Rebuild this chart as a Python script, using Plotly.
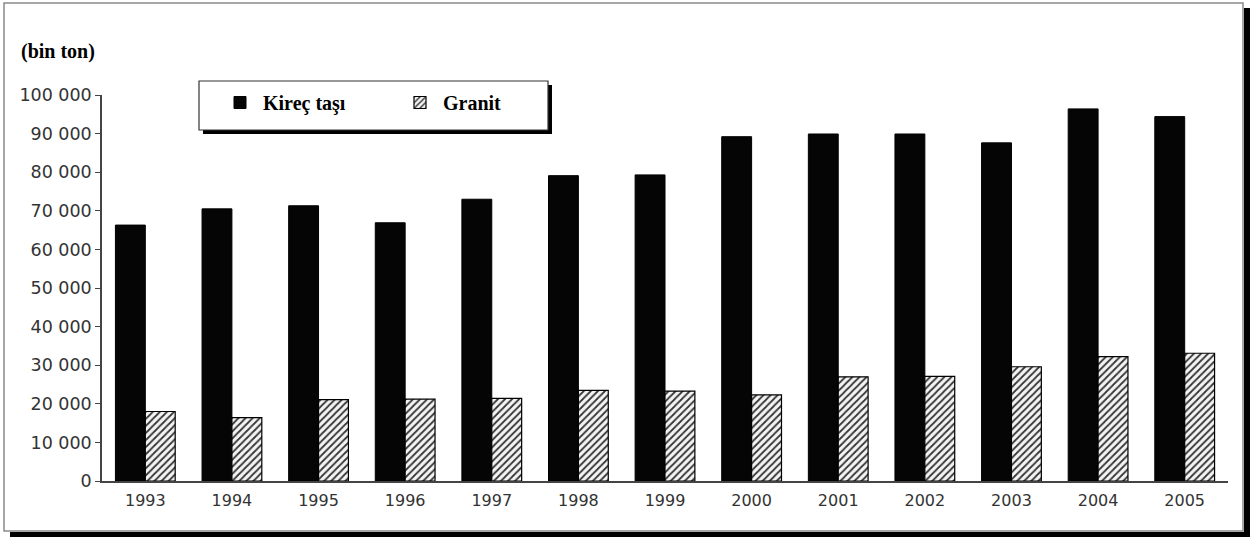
import plotly.graph_objects as go

years = ["1993", "1994", "1995", "1996", "1997", "1998", "1999",
         "2000", "2001", "2002", "2003", "2004", "2005"]
kirec_tasi = [66300, 70500, 71300, 66900, 73000, 79100, 79300,
              89200, 89900, 89900, 87600, 96400, 94400]
granit = [18000, 16400, 21100, 21200, 21400, 23500, 23300,
          22300, 27000, 27100, 29600, 32200, 33100]
y_tick_vals = [0, 10000, 20000, 30000, 40000, 50000, 60000, 70000, 80000, 90000, 100000]
y_tick_text = ["0", "10 000", "20 000", "30 000", "40 000", "50 000", "60 000",
               "70 000", "80 000", "90 000", "100 000"]

W, H = 1251, 538
PL, PR, PT, PB = 102, 1228, 95, 481


def px(p):
    return (p - PL) / (PR - PL)


def py(p):
    return (PB - p) / (PB - PT)


fig = go.Figure()
fig.add_trace(go.Bar(
    name="Kireç taşı", x=years, y=kirec_tasi,
    marker=dict(color="#050505", line=dict(color="#000000", width=1)),
))
fig.add_trace(go.Bar(
    name="Granit", x=years, y=granit,
    marker=dict(color="white", line=dict(color="#000000", width=1.2),
                pattern=dict(shape="/", size=5, solidity=0.35,
                             fgcolor="#333333", bgcolor="#f4f4f4", fillmode="replace")),
))

shapes = []
# outer frame shadow (right and bottom)
shapes.append(dict(type="rect", xref="paper", yref="paper",
                   x0=px(1244), x1=px(1250), y0=py(537), y1=py(8),
                   fillcolor="black", line=dict(width=0), layer="below"))
shapes.append(dict(type="rect", xref="paper", yref="paper",
                   x0=px(10), x1=px(1250), y0=py(537), y1=py(532),
                   fillcolor="black", line=dict(width=0), layer="below"))
# outer frame
shapes.append(dict(type="rect", xref="paper", yref="paper",
                   x0=px(4), x1=px(1243), y0=py(531), y1=py(3),
                   fillcolor="rgba(0,0,0,0)", line=dict(color="#8a8a8a", width=1.5), layer="below"))
# legend box shadow
shapes.append(dict(type="rect", xref="paper", yref="paper",
                   x0=px(203), x1=px(552), y0=py(134), y1=py(85),
                   fillcolor="black", line=dict(width=0), layer="above"))
# legend box
shapes.append(dict(type="rect", xref="paper", yref="paper",
                   x0=px(199), x1=px(548), y0=py(130), y1=py(81),
                   fillcolor="white", line=dict(color="#333333", width=1.2), layer="above"))

fig.update_layout(
    width=W, height=H,
    margin=dict(l=PL, r=W - PR, t=PT, b=H - PB),
    paper_bgcolor="white", plot_bgcolor="white",
    barmode="group", bargap=0.31, bargroupgap=0,
    showlegend=True,
    legend=dict(orientation="h", x=px(217), y=py(83), xanchor="left", yanchor="top",
                bgcolor="rgba(0,0,0,0)", borderwidth=0,
                font=dict(family="Liberation Serif", size=20, color="black", weight="bold"),
                entrywidth=129, entrywidthmode="pixels", itemwidth=36,
                traceorder="normal"),
    shapes=shapes,
    annotations=[dict(text="<b>(bin ton)</b>", xref="paper", yref="paper",
                      x=px(19), y=py(51), xanchor="left", yanchor="middle",
                      showarrow=False,
                      font=dict(family="Liberation Serif", size=20, color="black"))],
    font=dict(family="DejaVu Sans", size=16, color="#333333"),
)
fig.update_xaxes(showline=True, linecolor="#444444", linewidth=1.5,
                 ticks="outside", ticklen=4, tickcolor="white",
                 tickfont=dict(family="DejaVu Sans", size=16, color="#333333"),
                 showgrid=False, zeroline=False)
fig.update_yaxes(range=[0, 100000], tickvals=y_tick_vals, ticktext=y_tick_text,
                 showline=True, linecolor="#444444", linewidth=1.5,
                 ticks="outside", ticklen=5, tickcolor="#444444",
                 tickfont=dict(family="DejaVu Sans", size=17.5, color="#333333"),
                 showgrid=False, zeroline=False)

fig.write_html("out.html", config={"displayModeBar": False},
               post_script="document.body.style.margin='0';document.body.style.overflow='hidden';")
